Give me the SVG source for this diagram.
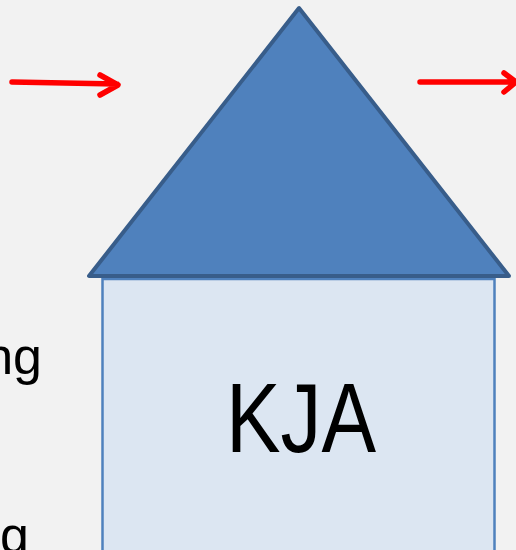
<svg xmlns="http://www.w3.org/2000/svg" width="516" height="550" viewBox="0 0 516 550">
<style>
.arrow{stroke:#FF0000;stroke-width:5.5;fill:none;stroke-linecap:round;stroke-linejoin:round}
.lbl{font-family:"Liberation Sans",Arial,sans-serif;fill:#000}
</style>
<rect x="0" y="0" width="516" height="550" fill="#F2F2F2"/>
<g id="house-body">
<rect x="102.5" y="279" width="392" height="290" fill="#DCE6F2" stroke="#4F81BD" stroke-width="2.5"/>
<text class="lbl" x="301" y="452" font-size="98" text-anchor="middle" textLength="150" lengthAdjust="spacingAndGlyphs">KJA</text>
</g>
<g id="roof">
<polygon points="299,8 89,276 509,276" fill="#4F81BD" stroke="#385D8A" stroke-width="4" stroke-linejoin="round"/>
</g>
<g id="text-left">
<text class="lbl" x="42" y="374" font-size="52" text-anchor="end">ng</text>
<text class="lbl" x="29" y="553" font-size="52" text-anchor="end">g</text>
</g>
<g id="connectors">
<path class="arrow" d="M12,82 L117,84 M100,75 L118,85 L100,95"/>
<path class="arrow" d="M420,82 L514,82 M504,73 L516,82 L504,92"/>
</g>
</svg>
